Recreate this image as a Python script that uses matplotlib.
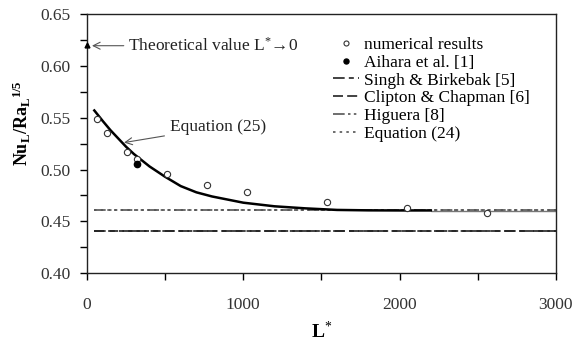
import matplotlib
matplotlib.use("Agg")
import matplotlib.pyplot as plt
from matplotlib.ticker import MultipleLocator

plt.rcParams['font.family'] = ['Liberation Serif', 'DejaVu Serif']
plt.rcParams['mathtext.fontset'] = 'custom'
plt.rcParams['mathtext.rm'] = 'Liberation Serif'
plt.rcParams['mathtext.it'] = 'Liberation Serif:italic'
plt.rcParams['mathtext.bf'] = 'Liberation Serif:bold'

# numerical results
num_L = [64, 128, 256, 320, 512, 768, 1024, 1536, 2048, 2560]
num_v = [0.549, 0.535, 0.517, 0.510, 0.496, 0.485, 0.478, 0.469, 0.4625, 0.4578]
# Aihara et al.
aih_L = [320]
aih_v = [0.505]
# Equation (25) curve
eq25_L = [47, 100, 150, 200, 250, 300, 350, 400, 500, 600, 700, 800, 1000, 1200, 1400, 1600, 1800, 2000, 2200]
eq25_v = [0.557, 0.547, 0.538, 0.530, 0.522, 0.515, 0.509, 0.503, 0.493, 0.484, 0.478, 0.474,
          0.468, 0.4645, 0.4625, 0.461, 0.4606, 0.4605, 0.4605]
# horizontal correlations
line_L = [45, 3000]
singh_v = 0.4405
clipton_v = 0.441
higuera_v = 0.4608
eq24_v = 0.4612
gray_L = [2200, 3000]
gray_v = 0.4604
# theoretical value
theo_L = [0]
theo_v = [0.62]

fig = plt.figure(figsize=(5.76, 3.44), dpi=100)
ax = fig.add_axes([0.151, 0.206, 0.814, 0.753])

fs = 12.5
ax.plot(gray_L, [gray_v, gray_v], color='#777777', lw=1.0, solid_capstyle='butt')
ax.plot(num_L, num_v, 'o', ms=4.5, mfc='white', mec='#333333', mew=0.8, ls='none',
        label='numerical results', zorder=4)
ax.plot(aih_L, aih_v, 'o', ms=4.5, color='black', ls='none', label='Aihara et al. [1]', zorder=5)
ax.plot(line_L, [singh_v, singh_v], color='#222222', lw=1.2, ls=(0, (7, 2.5, 3, 2.5, 3, 2.5)),
        label='Singh & Birkebak [5]')
ax.plot(line_L, [clipton_v, clipton_v], color='#222222', lw=1.2, ls=(0, (6, 2.5)),
        label='Clipton & Chapman [6]')
ax.plot(line_L, [higuera_v, higuera_v], color='#555555', lw=1.2, ls=(0, (7, 2, 1.5, 2, 1.5, 2)),
        label='Higuera [8]')
ax.plot(line_L, [eq24_v, eq24_v], color='#555555', lw=1.2, ls=(0, (1.5, 2.5)),
        label='Equation (24)')
ax.plot(eq25_L, eq25_v, color='black', lw=1.8, zorder=3)
ax.plot(theo_L, theo_v, '^', ms=3.5, color='black', clip_on=False, zorder=6)

ax.set_xlim(0, 3000)
ax.set_ylim(0.40, 0.65)
ax.xaxis.set_major_locator(MultipleLocator(1000))
ax.xaxis.set_minor_locator(MultipleLocator(500))
ax.yaxis.set_major_locator(MultipleLocator(0.05))
ax.yaxis.set_minor_locator(MultipleLocator(0.025))
ax.tick_params(axis='both', which='both', direction='out', length=5, width=1, labelsize=fs, color='black')
ax.tick_params(axis='x', which='both', pad=12)
ax.tick_params(axis='y', which='both', pad=7)
ax.tick_params(axis='x', which='both', top=False)
ax.tick_params(axis='y', which='both', right=False)
ax.yaxis.set_major_formatter(plt.FuncFormatter(lambda v, p: f'{v:.2f}'))
for lab in ax.get_xticklabels() + ax.get_yticklabels():
    lab.set_color('#333333')
for s in ax.spines.values():
    s.set_linewidth(1.0)
    s.set_color('#222222')

ax.set_xlabel(r'$\mathbf{L}^{*}$', fontsize=14)
ax.xaxis.set_label_coords(0.5, -0.185)
ax.set_ylabel(r'$\mathbf{Nu_L/Ra_L}^{\mathbf{1/5}}$', fontsize=13)
ax.yaxis.set_label_coords(-0.115, 0.58)

ax.annotate('Theoretical value L$^{*}$\u21920', xy=(32, 0.6195), xytext=(262, 0.6195),
            fontsize=fs, va='center', ha='left', color='#222222',
            arrowprops=dict(arrowstyle='->', color='#555555', lw=0.8, shrinkA=1, shrinkB=0))
ax.annotate('Equation (25)', xy=(237, 0.526), xytext=(531, 0.541),
            fontsize=fs, va='center', ha='left', color='#222222',
            arrowprops=dict(arrowstyle='->', color='#555555', lw=0.8, shrinkA=2, shrinkB=0))

leg = ax.legend(loc='upper left', bbox_to_anchor=(0.51, 0.94), frameon=False, fontsize=fs,
                handlelength=1.5, handletextpad=0.3, labelspacing=0.1, borderaxespad=0,
                markerscale=0.8)

fig.savefig('out.png', dpi=100)
